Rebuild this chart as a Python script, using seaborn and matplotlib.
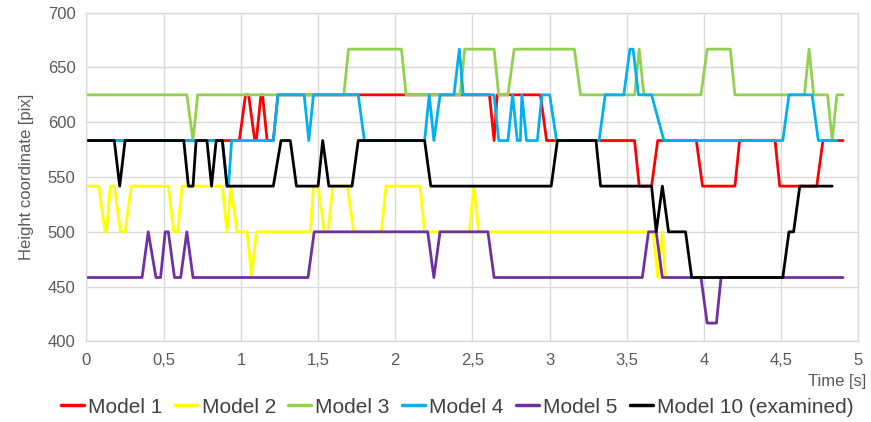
import numpy as np
import pandas as pd
import matplotlib
matplotlib.use("Agg")
import matplotlib.pyplot as plt
import seaborn as sns
from matplotlib.ticker import FuncFormatter, MultipleLocator

# levels: 416.7, 458.3, 500, 541.7, 583.3, 625, 666.7
m1_t = [0, 0.99, 1.03, 1.05, 1.09, 1.10, 1.13, 1.14, 1.17, 1.21, 1.24, 2.61, 2.64, 2.66,
        2.94, 2.98, 3.55, 3.58, 3.66, 3.70, 3.95, 3.99, 4.20, 4.23, 4.46, 4.49, 4.73, 4.77, 4.90]
m1_v = [583.3, 583.3, 625, 625, 583.3, 583.3, 625, 625, 583.3, 583.3, 625, 625, 583.3, 625,
        625, 583.3, 583.3, 541.7, 541.7, 583.3, 583.3, 541.7, 541.7, 583.3, 583.3, 541.7, 541.7, 583.3, 583.3]

m2_t = [0, 0.08, 0.12, 0.13, 0.155, 0.18, 0.22, 0.25, 0.29, 0.53, 0.565, 0.59, 0.62, 0.88, 0.91,
        0.935, 0.975, 1.04, 1.07, 1.10, 1.45, 1.47, 1.50, 1.54, 1.565, 1.595, 1.69, 1.73, 1.91, 1.94,
        2.16, 2.19, 2.48, 2.51, 2.54, 3.67, 3.70, 3.73, 3.75, 3.78]
m2_v = [541.7, 541.7, 500, 500, 541.7, 541.7, 500, 500, 541.7, 541.7, 500, 500, 541.7, 541.7, 500,
        541.7, 500, 500, 458.3, 500, 500, 541.7, 541.7, 500, 500, 541.7, 541.7, 500, 500, 541.7,
        541.7, 500, 500, 541.7, 500, 500, 458.3, 500, 458.3, 458.3]

m3_t = [0, 0.65, 0.69, 0.72, 1.667, 1.697, 2.04, 2.07, 2.42, 2.45, 2.64, 2.67, 2.73, 2.77, 3.16, 3.20,
        3.55, 3.58, 3.61, 3.98, 4.02, 4.17, 4.20, 4.65, 4.68, 4.71, 4.80, 4.83, 4.86, 4.90]
m3_v = [625, 625, 583.3, 625, 625, 666.7, 666.7, 625, 625, 666.7, 666.7, 625, 625, 666.7, 666.7, 625,
        625, 666.7, 625, 625, 666.7, 666.7, 625, 625, 666.7, 625, 625, 583.3, 625, 625]

m4_t = [0, 0.88, 0.91, 0.92, 0.94, 1.21, 1.24, 1.41, 1.44, 1.47, 1.76, 1.80, 2.19, 2.22, 2.25, 2.29,
        2.38, 2.415, 2.44, 2.64, 2.67, 2.73, 2.76, 2.79, 2.81, 2.82, 2.85, 2.92, 2.95, 3.00, 3.045,
        3.32, 3.36, 3.48, 3.52, 3.54, 3.575, 3.66, 3.74, 4.51, 4.55, 4.70, 4.74, 4.86]
m4_v = [583.3, 583.3, 541.7, 541.7, 583.3, 583.3, 625, 625, 583.3, 625, 625, 583.3, 583.3, 625, 583.3, 625,
        625, 666.7, 625, 625, 583.3, 583.3, 625, 583.3, 583.3, 625, 583.3, 583.3, 625, 625, 583.3,
        583.3, 625, 625, 666.7, 666.7, 625, 625, 583.3, 583.3, 625, 625, 583.3, 583.3]

m5_t = [0, 0.36, 0.40, 0.45, 0.48, 0.51, 0.53, 0.57, 0.61, 0.65, 0.69, 1.435, 1.475, 2.21, 2.25, 2.29,
        2.60, 2.64, 3.60, 3.64, 3.69, 3.73, 3.98, 4.02, 4.08, 4.11, 4.90]
m5_v = [458.3, 458.3, 500, 458.3, 458.3, 500, 500, 458.3, 458.3, 500, 458.3, 458.3, 500, 500, 458.3, 500,
        500, 458.3, 458.3, 500, 500, 458.3, 458.3, 416.7, 416.7, 458.3, 458.3]

m10_t = [0, 0.18, 0.215, 0.25, 0.63, 0.66, 0.69, 0.71, 0.78, 0.81, 0.84, 0.88, 0.91, 1.21, 1.26, 1.32,
         1.36, 1.50, 1.53, 1.57, 1.72, 1.76, 2.19, 2.23, 3.01, 3.05, 3.30, 3.33, 3.66, 3.69, 3.73, 3.77,
         3.88, 3.92, 4.51, 4.55, 4.58, 4.62, 4.83]
m10_v = [583.3, 583.3, 541.7, 583.3, 583.3, 541.7, 541.7, 583.3, 583.3, 541.7, 583.3, 583.3, 541.7, 541.7, 583.3, 583.3,
         541.7, 541.7, 583.3, 541.7, 541.7, 583.3, 583.3, 541.7, 541.7, 583.3, 583.3, 541.7, 541.7, 500, 541.7, 500,
         500, 458.3, 458.3, 500, 500, 541.7, 541.7]

names = ["Model 1", "Model 2", "Model 3", "Model 4", "Model 5", "Model 10 (examined)"]
colors = ["#FF0000", "#FFFF00", "#92D050", "#00B0F0", "#7030A0", "#000000"]
series = [(m1_t, m1_v), (m2_t, m2_v), (m3_t, m3_v), (m4_t, m4_v), (m5_t, m5_v), (m10_t, m10_v)]

df = pd.concat(
    [pd.DataFrame({"t": t, "v": v, "model": n}) for n, (t, v) in zip(names, series)],
    ignore_index=True,
)

sns.set_style("white")
plt.rcParams["font.family"] = ["Liberation Sans Narrow", "Liberation Sans", "DejaVu Sans"]

fig = plt.figure(figsize=(8.71, 4.22), dpi=100)
ax = fig.add_axes([0.0993, 0.191, 0.8863, 0.779])

sns.lineplot(data=df, x="t", y="v", hue="model", hue_order=names,
             palette=dict(zip(names, colors)), sort=False, estimator=None,
             linewidth=2, ax=ax, legend=False)

ax.set_xlim(0, 5)
ax.set_ylim(400, 700)
ax.xaxis.set_major_locator(MultipleLocator(0.5))
ax.yaxis.set_major_locator(MultipleLocator(50))
ax.xaxis.set_major_formatter(FuncFormatter(lambda x, p: f"{x:g}".replace(".", ",")))
ax.grid(True, color="#D9D9D9", linewidth=1)
ax.set_axisbelow(True)
for s in ax.spines.values():
    s.set_color("#D9D9D9")
    s.set_linewidth(1)
ax.tick_params(axis="both", length=0, labelsize=12, labelcolor="#595959", pad=8)
ax.set_xlabel("")
ax.set_ylabel("Height coordinate [pix]", fontsize=12, color="#595959", labelpad=10)
fig.text(0.995, 0.095, "Time [s]", ha="right", va="center", fontsize=12, color="#595959")

handles = [plt.Line2D([], [], color=c, linewidth=2.5) for c in colors]
fig.legend(handles, names, loc="center", bbox_to_anchor=(0.525, 0.035), ncol=6,
           frameon=False, fontsize=15, handlelength=1.1, handletextpad=0.2,
           columnspacing=0.6, labelcolor="#404040")

plt.savefig("out.png", dpi=100)
plt.close()
